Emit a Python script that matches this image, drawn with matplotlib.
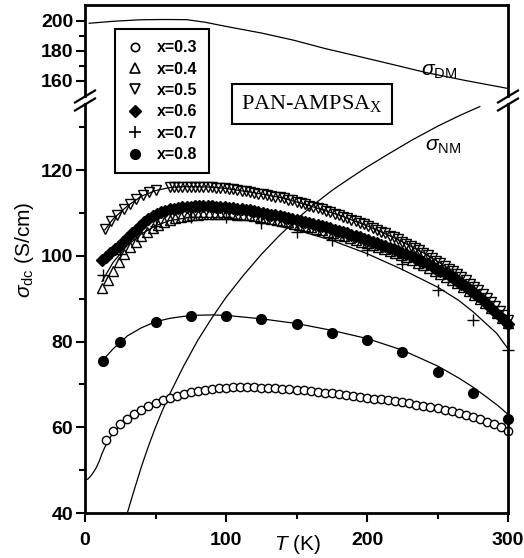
import numpy as np
import matplotlib
matplotlib.use("Agg")
import matplotlib.pyplot as plt
from matplotlib.lines import Line2D

plt.rcParams['font.family'] = ['Liberation Sans', 'DejaVu Sans']
plt.rcParams['mathtext.fontset'] = 'custom'
plt.rcParams['mathtext.rm'] = 'Liberation Sans'
plt.rcParams['mathtext.it'] = 'Liberation Sans:italic'
plt.rcParams['mathtext.bf'] = 'Liberation Sans:bold'

# ---- measured conductivity, sigma_dc (S/cm) vs T (K) ----
T_03 = np.arange(15, 301, 5)
sig_03 = [57.0, 59.2, 60.7, 61.9, 63.0, 64.0, 64.9, 65.7, 66.3, 66.9,
          67.4, 67.8, 68.2, 68.5, 68.8, 69.0, 69.1, 69.2, 69.3, 69.3,
          69.3, 69.3, 69.2, 69.2, 69.1, 69.0, 68.9, 68.8, 68.6, 68.5,
          68.3, 68.1, 67.9, 67.7, 67.5, 67.3, 67.1, 66.9, 66.7, 66.5,
          66.3, 66.1, 65.8, 65.6, 65.3, 65.0, 64.7, 64.4, 64.1, 63.7,
          63.3, 62.9, 62.4, 61.9, 61.3, 60.7, 60.0, 59.2]

T_04 = np.arange(12, 301, 4)
sig_04 = [92.5, 94.4, 96.5, 98.6, 100.4, 102.0, 103.3, 104.5, 105.5, 106.5,
          107.2, 107.8, 108.4, 108.8, 109.1, 109.3, 109.5, 109.6, 109.7, 109.8,
          109.8, 109.8, 109.8, 109.7, 109.6, 109.5, 109.4, 109.2, 109.0, 108.8,
          108.6, 108.4, 108.1, 107.8, 107.5, 107.2, 106.9, 106.6, 106.3, 106.0,
          105.6, 105.3, 104.9, 104.5, 104.1, 103.7, 103.3, 102.9, 102.5, 102.0,
          101.6, 101.1, 100.6, 100.1, 99.6, 99.0, 98.4, 97.8, 97.2, 96.5,
          95.8, 95.1, 94.4, 93.6, 92.7, 91.8, 90.9, 90.0, 88.9, 87.8,
          86.7, 85.5, 84.3]

T_05 = np.concatenate([[14, 18.5, 23, 27.5, 32, 36.5, 41, 45.5, 50],
                       np.arange(60, 301, 3)])
sig_05 = [106.2, 108.0, 109.6, 110.9, 112.1, 113.2, 114.2, 114.9, 115.4,
          116.0, 116.0, 116.1, 116.1, 116.1, 116.1, 116.1, 116.1, 116.1, 116.0,
          116.0, 115.9, 115.8, 115.7, 115.6, 115.5, 115.3, 115.2, 115.0, 114.9,
          114.7, 114.5, 114.3, 114.2, 114.0, 113.8, 113.6, 113.4, 113.1, 112.9,
          112.6, 112.3, 112.0, 111.7, 111.4, 111.1, 110.8, 110.5, 110.2, 109.8,
          109.5, 109.1, 108.8, 108.4, 108.0, 107.6, 107.3, 106.9, 106.4, 106.0,
          105.6, 105.2, 104.7, 104.3, 103.8, 103.3, 102.8, 102.3, 101.8, 101.3,
          100.7, 100.1, 99.5, 98.8, 98.2, 97.6, 97.0, 96.4, 95.7, 95.0,
          94.3, 93.5, 92.7, 91.9, 91.0, 90.1, 89.1, 88.2, 87.1, 86.1,
          85.0]

T_06 = np.arange(12, 301, 3)
sig_06 = [99.0, 99.8, 100.6, 101.5, 102.3, 103.2, 104.2, 105.2, 106.1, 107.0,
          107.8, 108.6, 109.2, 109.7, 110.2, 110.5, 110.8, 111.0, 111.1, 111.3,
          111.4, 111.4, 111.5, 111.5, 111.5, 111.5, 111.5, 111.4, 111.4, 111.3,
          111.2, 111.1, 111.0, 110.9, 110.7, 110.6, 110.4, 110.2, 110.0, 109.8,
          109.6, 109.4, 109.2, 109.0, 108.8, 108.6, 108.4, 108.1, 107.9, 107.7,
          107.4, 107.2, 106.9, 106.7, 106.4, 106.1, 105.8, 105.5, 105.2, 104.9,
          104.6, 104.3, 103.9, 103.6, 103.3, 102.9, 102.6, 102.2, 101.9, 101.5,
          101.1, 100.7, 100.3, 99.9, 99.4, 99.0, 98.5, 98.0, 97.5, 97.0,
          96.5, 96.0, 95.4, 94.8, 94.1, 93.5, 92.8, 92.0, 91.3, 90.5,
          89.7, 88.8, 87.9, 87.0, 86.0, 85.0, 84.0]

T_07 = [12.5, 25, 50, 75, 100, 125, 150, 175, 200, 225, 250, 275, 300]
sig_07 = [95.5, 100.5, 107.0, 109.0, 109.0, 107.6, 105.6, 103.7, 101.4,
          98.0, 92.0, 85.0, 78.0]

T_08 = [12.5, 25, 50, 75, 100, 125, 150, 175, 200, 225, 250, 275, 300]
sig_08 = [75.5, 80.0, 84.5, 86.0, 86.0, 85.2, 84.0, 82.0, 80.4,
          77.5, 73.0, 68.0, 62.0]

# ---- model curves ----
T_fit03 = [0, 2, 4, 6, 8, 10, 12, 14, 17, 20, 25, 30, 40, 50, 60, 70, 80,
           90, 100, 120, 140, 160, 180, 200, 220, 240, 260, 280, 290, 300]
fit03 = [47.7, 47.9, 48.6, 49.5, 50.6, 52.0, 53.8, 55.3, 57.2, 58.7, 60.5,
         61.9, 64.0, 65.7, 66.9, 67.8, 68.5, 69.0, 69.2, 69.3, 69.0, 68.5,
         67.7, 66.9, 66.1, 65.0, 63.7, 61.9, 60.6, 59.0]

T_fit05 = [14, 20, 30, 40, 50, 60, 70, 80, 90, 100, 120, 140, 160, 180,
           200, 220, 240, 260, 280, 300]
fit05 = [106.0, 108.6, 111.6, 113.9, 115.2, 115.9, 116.1, 116.1, 116.0,
         115.7, 114.7, 113.5, 111.6, 109.5, 107.0, 104.1, 100.7, 96.6, 91.6,
         85.0]

T_fit07 = [12, 20, 30, 40, 50, 60, 75, 100, 125, 150, 175, 200, 225, 250,
           265, 275, 285, 292, 300]
fit07 = [94.0, 98.5, 102.4, 105.1, 107.0, 108.2, 109.0, 108.9, 107.8,
         106.0, 103.6, 100.5, 96.8, 92.7, 89.6, 87.0, 84.0, 81.9, 78.3]

T_fit08 = [12.5, 20, 30, 40, 50, 60, 75, 90, 100, 125, 150, 175, 200, 225,
           250, 265, 275, 285, 293, 300]
fit08 = [75.6, 78.3, 81.3, 83.2, 84.6, 85.4, 86.1, 86.2, 86.1, 85.3, 84.2,
         82.6, 80.7, 78.0, 74.3, 71.5, 69.4, 67.0, 65.0, 63.0]

T_NM = [30, 35, 40, 45, 50, 55, 60, 70, 80, 90, 100, 112.5, 125, 137.5,
        150, 162.5, 175, 187.5, 200, 215, 232, 250, 265, 280]
sig_NM = [40.0, 45.5, 50.8, 55.6, 60.0, 64.0, 67.7, 74.3, 80.3, 85.5, 90.3,
          95.5, 100.3, 104.6, 108.5, 112.0, 115.2, 118.0, 120.7, 123.7,
          127.0, 130.2, 132.6, 134.8]

T_DM = [3, 20, 39, 55, 72, 85, 100, 125, 148, 170, 195, 220, 242, 270, 299]
sig_DM = [198.3, 199.6, 200.6, 200.8, 200.7, 199.0, 196.2, 191.8, 187.0,
          181.5, 176.0, 170.4, 165.4, 160.1, 155.0]

W, H = 524, 558
fig = plt.figure(figsize=(W / 100, H / 100), dpi=100)

# two stacked panels: compressed upper range and the main range below
L = 85 / W
AW = (508 - 85) / W
ax_top = fig.add_axes([L, 1 - 96 / H, AW, (96 - 4.5) / H])
ax = fig.add_axes([L, 1 - 513 / H, AW, (513 - 104) / H])

for a in (ax_top, ax):
    for s in a.spines.values():
        s.set_linewidth(2.0)
    a.set_xlim(0, 300)
    a.tick_params(axis='both', which='major', direction='out', length=6.5,
                  width=1.5, labelsize=14, right=False, top=False)
    a.tick_params(axis='both', which='minor', direction='out', length=4,
                  width=1.5, right=False, top=False)
    a.set_facecolor('none')

ax_top.spines['bottom'].set_visible(False)
ax.spines['top'].set_visible(False)

ax_top.set_ylim(149.8, 210.8)
ax_top.set_yticks([160, 180, 200])
ax_top.set_yticks([170, 190], minor=True)
ax_top.tick_params(axis='x', which='both', bottom=False, labelbottom=False)
ax_top.tick_params(axis='y', pad=2)

ax.set_ylim(40, 135.4)
ax.set_yticks([40, 60, 80, 100, 120])
ax.set_yticks([50, 70, 90, 110, 130], minor=True)
ax.set_xticks([0, 100, 200, 300])
ax.set_xticks([50, 150, 250], minor=True)
ax.tick_params(axis='y', pad=2)
ax.tick_params(axis='x', pad=7)

for lab in ax.get_xticklabels() + ax.get_yticklabels() + ax_top.get_yticklabels():
    lab.set_fontweight('bold')

# model curves
ax_top.plot(T_DM, sig_DM, color='black', lw=0.9)
ax.plot(T_NM, sig_NM, color='black', lw=0.9)
ax.plot(T_fit03, fit03, color='black', lw=0.9)
ax.plot(T_fit05, fit05, color='black', lw=0.9)
ax.plot(T_fit07, fit07, color='black', lw=0.9)
ax.plot(T_fit08, fit08, color='black', lw=0.9)

# data points
mk = dict(ls='none', mec='black', mew=1.0, clip_on=False)
ax.plot(T_06, sig_06, marker='D', ms=6, mfc='black', **mk)
ax.plot(T_04, sig_04, marker='^', ms=7, mfc='none', **mk)
ax.plot(T_05, sig_05, marker='v', ms=7, mfc='none', **mk)
ax.plot(T_07, sig_07, marker='+', ms=8, **mk)
ax.plot(T_03, sig_03, marker='o', ms=6, mfc='white', **mk)
ax.plot(T_08, sig_08, marker='o', ms=7, mfc='black', **mk)

# axis break marks on both sides
for xc in (85, 508):
    for yc in (96.5, 104.5):
        fig.add_artist(Line2D([(xc - 10) / W, (xc + 10) / W],
                              [1 - (yc + 6) / H, 1 - (yc - 6) / H],
                              color='black', lw=1.6, transform=fig.transFigure))

# axis labels
fig.text(25 / W, 1 - 250 / H, r'$\sigma_\mathregular{dc}$ (S/cm)', rotation=90,
         ha='center', va='center', fontsize=15)
fig.text(298 / W, 1 - 545 / H, r'$T$ (K)', ha='center', va='center', fontsize=15)

# curve labels
ax_top.text(238, 163.5, r'$\sigma_\mathregular{DM}$', fontsize=15, ha='left',
            va='baseline')
ax.text(241, 124.5, r'$\sigma_\mathregular{NM}$', fontsize=15, ha='left',
        va='baseline')

# sample label
fig.text(312 / W, 1 - 104 / H, r'PAN-AMPSA$_\mathregular{X}$', family='Liberation Serif',
         fontsize=16, ha='center', va='center',
         bbox=dict(boxstyle='square,pad=0.4', fc='white', ec='black', lw=1.5))

# legend
handles = [
    Line2D([], [], ls='none', marker='o', ms=6, mfc='white', mec='black', mew=1.2),
    Line2D([], [], ls='none', marker='^', ms=7, mfc='white', mec='black', mew=1.2),
    Line2D([], [], ls='none', marker='v', ms=7, mfc='white', mec='black', mew=1.2),
    Line2D([], [], ls='none', marker='D', ms=6, mfc='black', mec='black'),
    Line2D([], [], ls='none', marker='+', ms=8, mec='black', mew=1.2),
    Line2D([], [], ls='none', marker='o', ms=7, mfc='black', mec='black'),
]
labels = ['x=0.3', 'x=0.4', 'x=0.5', 'x=0.6', 'x=0.7', 'x=0.8']
leg = fig.legend(handles, labels, loc='upper left',
                 bbox_to_anchor=(115 / W, 1 - 29 / H), frameon=True,
                 fancybox=False, edgecolor='black', framealpha=1,
                 prop=dict(family='Liberation Sans', weight='bold', size=11.5),
                 handlelength=1.15, handletextpad=0.8, labelspacing=0.4,
                 borderpad=0.7, borderaxespad=0)
leg.get_frame().set_linewidth(1.5)

fig.savefig('out.png', dpi=100)
